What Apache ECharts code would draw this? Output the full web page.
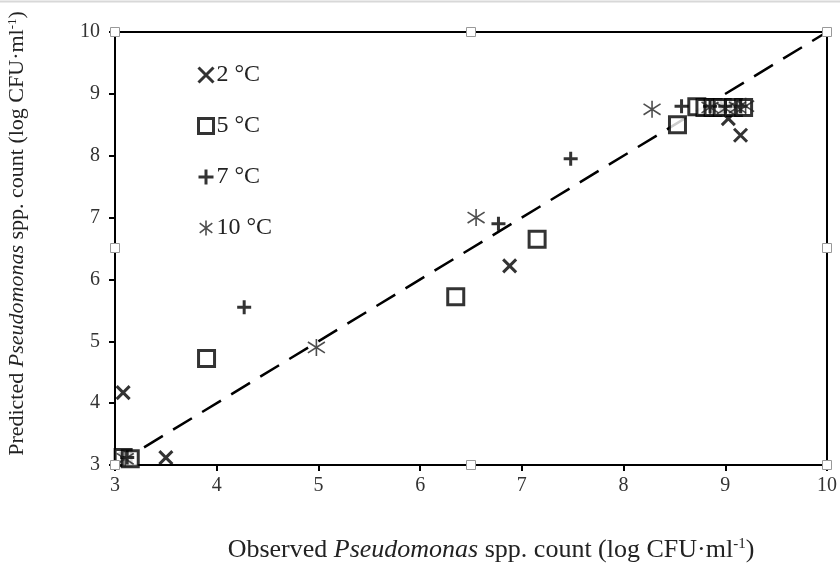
<!DOCTYPE html>
<html>
<head>
<meta charset="utf-8">
<script src="https://cdn.jsdelivr.net/npm/echarts@6/dist/echarts.min.js"></script>
<style>
  html, body { margin: 0; padding: 0; background: #fff; }
  #chart { width: 840px; height: 569px; }
</style>
</head>
<body>
<div id="chart"></div>
<script>
// observed vs predicted, log CFU/ml
var temp2 = [[3.08, 4.17], [3.5, 3.12], [3.1, 3.1], [6.88, 6.22], [9.15, 8.33], [9.03, 8.6], [8.9, 8.75], [9.0, 8.77], [9.1, 8.76]];
var temp5 = [[3.08, 3.12], [3.15, 3.1], [3.9, 4.72], [6.35, 5.72], [7.15, 6.65], [8.53, 8.5], [8.72, 8.79], [8.8, 8.78], [8.88, 8.78], [8.97, 8.78], [9.08, 8.78], [9.18, 8.78]];
var temp7 = [[3.12, 3.12], [4.27, 5.55], [6.77, 6.9], [7.48, 7.95], [8.57, 8.8], [8.85, 8.8], [9.0, 8.8], [9.15, 8.8]];
var temp10 = [[3.1, 3.1], [4.98, 4.9], [6.55, 7.0], [8.28, 8.75], [8.85, 8.78], [9.0, 8.76], [9.12, 8.78], [9.2, 8.8]];
var lineOfEquality = [[3, 3], [10, 10]];
var legendNames = ['2 °C', '5 °C', '7 °C', '10 °C'];

var serif = '"Liberation Serif", "DejaVu Serif", serif';
var crossPath = 'path://M0,0L10,10M10,0L0,10';
var plusPath = 'path://M5,0L5,10M0,5L10,5';
var starPath = 'path://M5,0L5,10M0.8,1.8L9.2,8.2M9.2,1.8L0.8,8.2';

var chart = echarts.init(document.getElementById('chart'));

function handle(x, y) {
  return {
    type: 'rect',
    shape: { x: x - 4.5, y: y - 4.5, width: 9, height: 9 },
    style: { fill: '#fff', stroke: '#999', lineWidth: 1 },
    z: 100
  };
}

function titleStyle(size, pad) {
  return {
    fontFamily: serif, fontSize: size, color: '#222', padding: pad,
    rich: {
      i: { fontFamily: serif, fontSize: size, fontStyle: 'italic', color: '#222' },
      s: { fontFamily: serif, fontSize: Math.round(size * 0.58), color: '#222', padding: [0, 0, Math.round(size * 0.45), 0] }
    }
  };
}

var option = {
  backgroundColor: '#fff',
  animation: false,
  grid: {
    left: 115, right: 13, top: 32, bottom: 104,
    outerBoundsMode: 'none',
    show: true, borderColor: '#000', borderWidth: 2
  },
  legend: {
    data: [
      { name: legendNames[0], icon: crossPath, itemStyle: { color: 'transparent', borderColor: '#000', borderWidth: 3 } },
      { name: legendNames[1], icon: 'rect', itemStyle: { color: '#fff', borderColor: '#000', borderWidth: 3 } },
      { name: legendNames[2], icon: plusPath, itemStyle: { color: 'transparent', borderColor: '#000', borderWidth: 3 } },
      { name: legendNames[3], icon: starPath, itemStyle: { color: 'transparent', borderColor: '#222', borderWidth: 1.6 } }
    ],
    orient: 'vertical',
    left: 192,
    top: 58,
    itemGap: 27,
    itemWidth: 15,
    itemHeight: 15,
    textStyle: { fontFamily: serif, fontSize: 24, lineHeight: 22, color: '#222', padding: [0, 0, 0, -2] }
  },
  xAxis: {
    type: 'value', min: 3, max: 10, interval: 1,
    name: 'Observed {i|Pseudomonas} spp. count (log CFU·ml{s|-1})',
    nameLocation: 'middle', nameGap: 72,
    nameTextStyle: titleStyle(26, [0, 0, 0, 40]),
    axisLine: { lineStyle: { color: '#000', width: 2 } },
    axisTick: { inside: false, length: 6, lineStyle: { color: '#000', width: 2 } },
    axisLabel: { fontFamily: serif, fontSize: 20, color: '#333', margin: 11 },
    splitLine: { show: false }
  },
  yAxis: {
    type: 'value', min: 3, max: 10, interval: 1,
    name: 'Predicted {i|Pseudomonas} spp. count (log CFU·ml{s|-1})',
    nameLocation: 'middle', nameGap: 86,
    nameTextStyle: titleStyle(22, [0, 0, 0, 30]),
    axisLine: { lineStyle: { color: '#000', width: 2 } },
    axisTick: { inside: false, length: 6, lineStyle: { color: '#000', width: 2 } },
    axisLabel: { fontFamily: serif, fontSize: 20, color: '#333', margin: 15 },
    splitLine: { show: false }
  },
  series: [
    {
      type: 'line', data: lineOfEquality, symbol: 'none', silent: true,
      lineStyle: { color: '#000', width: 2.5, type: [22, 12] }, z: 1
    },
    {
      name: legendNames[0], type: 'scatter', data: temp2,
      symbol: crossPath, symbolSize: 13,
      itemStyle: { color: 'transparent', borderColor: '#000', borderWidth: 3 }
    },
    {
      name: legendNames[1], type: 'scatter', data: temp5,
      symbol: 'rect', symbolSize: 16,
      itemStyle: { color: '#fff', borderColor: '#000', borderWidth: 3 }
    },
    {
      name: legendNames[2], type: 'scatter', data: temp7,
      symbol: plusPath, symbolSize: 14,
      itemStyle: { color: 'transparent', borderColor: '#000', borderWidth: 3 }
    },
    {
      name: legendNames[3], type: 'scatter', data: temp10,
      symbol: starPath, symbolSize: 17,
      itemStyle: { color: 'transparent', borderColor: '#222', borderWidth: 1.6 }
    }
  ],
  graphic: [
    { type: 'line', shape: { x1: 0, y1: 1.5, x2: 840, y2: 1.5 }, style: { stroke: '#d8d8d8', lineWidth: 2 } },
    handle(115, 32), handle(471, 32), handle(827, 32),
    handle(115, 248), handle(827, 248),
    handle(115, 465), handle(471, 465), handle(827, 465)
  ]
};

chart.setOption(option);
</script>
</body>
</html>
